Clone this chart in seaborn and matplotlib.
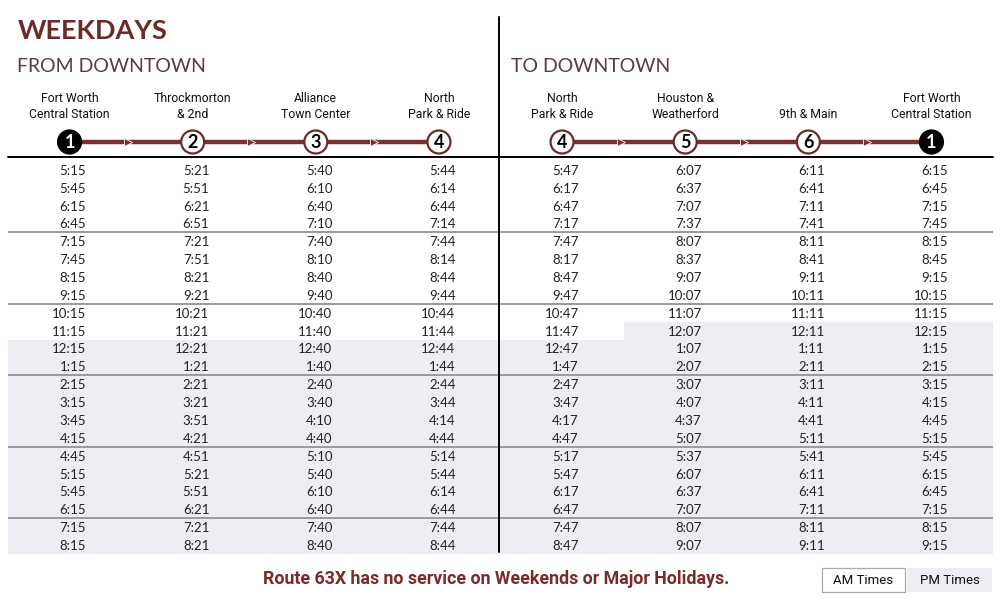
import numpy as np
import pandas as pd
import seaborn as sns
import matplotlib
matplotlib.use("Agg")
import matplotlib.pyplot as plt
from matplotlib.colors import ListedColormap
from matplotlib.patches import Circle, Rectangle

# ---------------- data ----------------
title = "WEEKDAYS"
section_titles = ["FROM DOWNTOWN", "TO DOWNTOWN"]
stop_names = ["Fort Worth\nCentral Station", "Throckmorton\n& 2nd", "Alliance\nTown Center",
              "North\nPark & Ride", "North\nPark & Ride", "Houston &\nWeatherford",
              "9th & Main", "Fort Worth\nCentral Station"]
stop_numbers = ["1", "2", "3", "4", "4", "5", "6", "1"]

fw_central_out = ["5:15", "5:45", "6:15", "6:45", "7:15", "7:45", "8:15", "9:15", "10:15", "11:15", "12:15",
                  "1:15", "2:15", "3:15", "3:45", "4:15", "4:45", "5:15", "5:45", "6:15", "7:15", "8:15"]
throckmorton = ["5:21", "5:51", "6:21", "6:51", "7:21", "7:51", "8:21", "9:21", "10:21", "11:21", "12:21",
                "1:21", "2:21", "3:21", "3:51", "4:21", "4:51", "5:21", "5:51", "6:21", "7:21", "8:21"]
alliance = ["5:40", "6:10", "6:40", "7:10", "7:40", "8:10", "8:40", "9:40", "10:40", "11:40", "12:40",
            "1:40", "2:40", "3:40", "4:10", "4:40", "5:10", "5:40", "6:10", "6:40", "7:40", "8:40"]
north_pr_arr = ["5:44", "6:14", "6:44", "7:14", "7:44", "8:14", "8:44", "9:44", "10:44", "11:44", "12:44",
                "1:44", "2:44", "3:44", "4:14", "4:44", "5:14", "5:44", "6:14", "6:44", "7:44", "8:44"]
north_pr_dep = ["5:47", "6:17", "6:47", "7:17", "7:47", "8:17", "8:47", "9:47", "10:47", "11:47", "12:47",
                "1:47", "2:47", "3:47", "4:17", "4:47", "5:17", "5:47", "6:17", "6:47", "7:47", "8:47"]
houston_weatherford = ["6:07", "6:37", "7:07", "7:37", "8:07", "8:37", "9:07", "10:07", "11:07", "12:07", "1:07",
                       "2:07", "3:07", "4:07", "4:37", "5:07", "5:37", "6:07", "6:37", "7:07", "8:07", "9:07"]
ninth_main = ["6:11", "6:41", "7:11", "7:41", "8:11", "8:41", "9:11", "10:11", "11:11", "12:11", "1:11",
              "2:11", "3:11", "4:11", "4:41", "5:11", "5:41", "6:11", "6:41", "7:11", "8:11", "9:11"]
fw_central_in = ["6:15", "6:45", "7:15", "7:45", "8:15", "8:45", "9:15", "10:15", "11:15", "12:15", "1:15",
                 "2:15", "3:15", "4:15", "4:45", "5:15", "5:45", "6:15", "6:45", "7:15", "8:15", "9:15"]
group_size = 4
note = "Route 63X has no service on Weekends or Major Holidays."
legend_labels = ["AM Times", "PM Times"]

columns = [fw_central_out, throckmorton, alliance, north_pr_arr,
           north_pr_dep, houston_weatherford, ninth_main, fw_central_in]
times = pd.DataFrame({i: c for i, c in enumerate(columns)})
n_rows, n_cols = times.shape

# PM flag: from the first noon hour onward within each column
pm = np.zeros((n_rows, n_cols))
for j in range(n_cols):
    seen = False
    for i in range(n_rows):
        if times.iloc[i, j].split(":")[0] == "12":
            seen = True
        pm[i, j] = 1.0 if seen else 0.0

# ---------------- style ----------------
MAROON = "#6E2A2B"
LINE_MAROON = "#7A2F30"
PM_COLOR = "#EDEDF4"
W, H = 1000, 601
sns.set_theme(style="white")
plt.rcParams["font.family"] = ["Lato", "DejaVu Sans"]
COND = ["Roboto", "DejaVu Sans"]

fig = plt.figure(figsize=(W / 100, H / 100), dpi=100)
fig.patch.set_facecolor("white")

# table region (pixels)
tx0, tx1 = 8, 993
ty0, ty1 = 161, 554
colw = (tx1 - tx0) / n_cols

tab = fig.add_axes([tx0 / W, 1 - ty1 / H, (tx1 - tx0) / W, (ty1 - ty0) / H])
sns.heatmap(pm, ax=tab, cmap=ListedColormap(["white", PM_COLOR]), cbar=False,
            vmin=0, vmax=1, xticklabels=False, yticklabels=False, linewidths=0)
tab.set_xlim(0, n_cols)
tab.set_ylim(n_rows, 0)
for sp in tab.spines.values():
    sp.set_visible(False)
for i in range(n_rows):
    for j in range(n_cols):
        tab.text(j + 0.635, i + 0.55, times.iloc[i, j], ha="right", va="center",
                 fontsize=9.5, color="#222222")
for k in range(group_size, n_rows, group_size):
    tab.axhline(k, color="#9a9a9a", lw=1.4)

# overlay for headers
ov = fig.add_axes([0, 0, 1, 1])
ov.set_xlim(0, W)
ov.set_ylim(H, 0)
ov.axis("off")
ov.patch.set_alpha(0)

ov.text(18, 31, title, fontsize=19.5, fontweight="bold", color=MAROON, va="center", ha="left")
ov.text(17, 67, section_titles[0], fontsize=14, color="#5B3B3C", va="center", ha="left")
ov.text(511, 67, section_titles[1], fontsize=14, color="#5B3B3C", va="center", ha="left")

centers = [tx0 + (j + 0.5) * colw for j in range(n_cols)]
cy = 142
r = 11.5
for half in (range(0, 4), range(4, 8)):
    idx = list(half)
    for a, b in zip(idx[:-1], idx[1:]):
        ov.plot([centers[a], centers[b]], [cy, cy], color=LINE_MAROON, lw=3.2,
                solid_capstyle="butt", zorder=2)
        ov.plot([(centers[a] + centers[b]) / 2 - 3], [cy], marker=">", ms=6,
                color=LINE_MAROON, mec="white", mew=0.6, zorder=3)
for j in range(n_cols):
    filled = stop_numbers[j] == "1"
    ov.add_patch(Circle((centers[j], cy), r, facecolor="black" if filled else "white",
                        edgecolor="black" if filled else MAROON, lw=1.6, zorder=4))
    ov.text(centers[j], cy + 0.5, stop_numbers[j], ha="center", va="center", fontsize=13,
            fontweight="bold", color="white" if filled else "black", zorder=5)
    ov.text(centers[j], 120.5, stop_names[j], ha="center", va="bottom", fontsize=8.8,
            family=COND, color="#111111", linespacing=1.25)

ov.plot([tx0, tx1], [157, 157], color="black", lw=1.4)
ov.plot([499, 499], [17, 552], color="black", lw=1.4)

ov.text(496, 579, note, ha="center", va="center", fontsize=12.8, fontweight="bold",
        family=COND, color="#7A2A2B")
ov.add_patch(Rectangle((822, 568), 83, 24, facecolor="white", edgecolor="#aaaaaa", lw=0.9))
ov.add_patch(Rectangle((907, 568), 85, 24, facecolor=PM_COLOR, edgecolor="none"))
ov.text(863.5, 580.5, legend_labels[0], ha="center", va="center", fontsize=9.5, family=COND, color="#111111")
ov.text(949.5, 580.5, legend_labels[1], ha="center", va="center", fontsize=9.5, family=COND, color="#111111")

fig.savefig("out.png", dpi=100, facecolor="white")
